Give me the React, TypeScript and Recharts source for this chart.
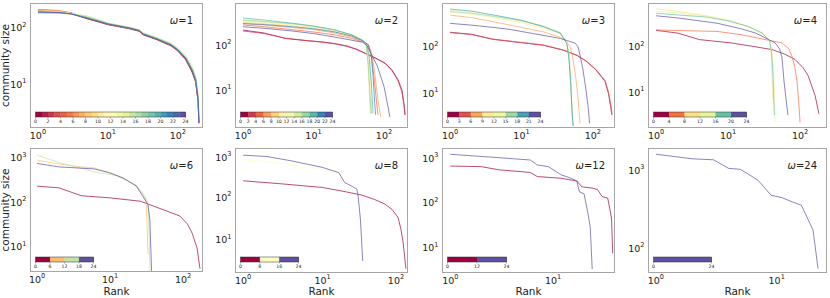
import { LineChart, Line, XAxis, YAxis } from "recharts";

type Pt = [number, number];

// matplotlib "Spectral" anchors
const SPECTRAL = ["#9e0142", "#d53e4f", "#f46d43", "#fdae61", "#fee08b", "#ffffbf", "#e6f598", "#abdda4", "#66c2a5", "#3288bd", "#5e4fa2"];

// omega = 1: every window shares the same ranks
const W1_RANKS = [1, 2, 3, 5, 8, 10, 20, 28, 32, 50, 80, 100, 130, 160, 180, 195, 200];
const W1_SIZES = [
  [210, 200, 185, 148, 125, 115, 98, 88, 76, 62, 48, 39, 27, 16, 11, 5, 2],
  [205, 198, 182, 146, 124, 114, 97, 87, 75, 62, 48, 39, 27, 17, 11, 5, 2],
  [215, 205, 186, 150, 127, 116, 99, 89, 77, 63, 49, 40, 28, 17, 11, 5, 2],
  [212, 202, 184, 152, 128, 117, 100, 90, 78, 64, 50, 41, 29, 18, 12, 5.5, 2.2],
  [208, 200, 183, 155, 130, 119, 101, 90, 79, 65, 51, 41, 29, 18, 12, 6, 2.3],
  [200, 195, 182, 160, 133, 120, 103, 92, 80, 66, 52, 42, 30, 19, 13, 6, 2.4],
  [195, 192, 180, 162, 135, 122, 104, 93, 81, 67, 53, 43, 31, 20, 13, 6.5, 2.6],
  [180, 182, 178, 165, 137, 123, 105, 94, 82, 68, 54, 44, 32, 21, 14, 7, 3],
  [185, 184, 178, 158, 132, 120, 102, 92, 80, 66, 52, 42, 30, 19, 13, 6, 2.5],
  [190, 187, 179, 155, 130, 119, 101, 91, 79, 65, 51, 41, 29, 18, 12, 5.5, 2.3],
  [195, 190, 178, 150, 128, 118, 100, 90, 78, 64, 50, 41, 29, 18, 12, 5.2, 2.1],
  [193, 188, 177, 148, 127, 117, 99, 89, 77, 63, 49, 40, 28, 17, 11, 5, 2],
];

const W2: Pt[][] = [
  [[1, 215], [2, 185], [4, 140], [8, 125], [13, 118], [20, 108], [30, 95], [40, 82], [54, 66], [75, 52], [103, 40], [130, 28], [158, 17], [180, 10], [192, 5], [198, 2.8]],
  [[1, 205], [2, 180], [4, 142], [8, 126], [13, 116], [20, 106], [30, 93], [40, 80], [54, 65], [75, 51], [103, 39], [130, 27], [158, 16], [180, 9], [192, 4.5], [200, 2.8]],
  [[1, 280], [2, 255], [5, 220], [10, 195], [20, 168], [35, 140], [50, 118], [60, 100], [66, 60], [72, 20], [78, 6], [82, 2.8]],
  [[1, 300], [2, 280], [5, 245], [10, 220], [20, 185], [35, 150], [50, 122], [60, 105], [68, 60], [75, 20], [82, 6], [90, 2.5]],
  [[1, 320], [2, 300], [5, 265], [10, 235], [20, 200], [35, 158], [50, 125], [58, 105], [62, 50], [65, 15], [67, 3]],
  [[1, 340], [2, 320], [5, 280], [10, 250], [20, 210], [35, 165], [50, 125], [57, 100], [60, 40], [62, 10], [64, 3]],
  [[1, 330], [2, 315], [5, 285], [10, 255], [20, 215], [35, 168], [50, 128], [57, 100], [60, 45], [63, 10], [65, 3]],
  [[1, 350], [2, 330], [5, 295], [10, 260], [20, 218], [35, 170], [50, 130], [56, 105], [59, 40], [62, 10], [64, 3]],
  [[1, 360], [2, 335], [5, 300], [10, 262], [20, 215], [35, 168], [50, 125], [56, 100], [60, 35], [63, 8], [66, 3]],
  [[1, 400], [2, 360], [5, 305], [10, 265], [20, 218], [35, 168], [50, 125], [57, 100], [62, 50], [66, 15], [70, 3]],
  [[1, 300], [2, 285], [5, 255], [10, 230], [20, 195], [35, 158], [50, 125], [60, 100], [66, 60], [70, 20], [74, 5], [76, 2.8]],
  [[1, 255], [2, 235], [5, 205], [10, 180], [20, 150], [35, 128], [50, 115], [58, 95], [65, 65], [80, 35], [100, 12], [115, 4], [121, 2.5]],
];

const W3: Pt[][] = [
  [[1, 204], [2, 185], [4, 144], [10, 122], [20, 108], [38, 85], [60, 65], [82, 48], [110, 32], [148, 18], [165, 10], [178, 5], [184, 3.5]],
  [[1, 200], [2, 182], [4, 146], [10, 124], [20, 110], [38, 86], [60, 66], [82, 49], [110, 33], [148, 19], [165, 11], [180, 5.5], [186, 3.5]],
  [[1, 476], [2, 420], [4, 344], [10, 260], [20, 210], [35, 160], [43, 128], [48, 100], [52, 60], [57, 25], [62, 8], [66, 2.3]],
  [[1, 560], [2, 500], [4, 420], [10, 330], [20, 250], [35, 190], [43, 130], [46, 80], [48, 30], [50, 8], [52, 2.3]],
  [[1, 600], [2, 540], [4, 450], [10, 350], [20, 270], [35, 200], [43, 125], [46, 70], [48, 25], [50, 6], [52, 2]],
  [[1, 570], [2, 520], [4, 450], [10, 360], [20, 280], [35, 200], [43, 120], [46, 70], [49, 20], [51, 5], [53, 2]],
  [[1, 640], [2, 580], [4, 480], [10, 370], [20, 270], [35, 195], [43, 118], [46, 60], [49, 15], [51, 4], [53, 2]],
  [[1, 317], [2, 290], [4, 260], [7, 234], [15, 190], [35, 151], [56, 120], [62, 100], [66, 66], [72, 35], [80, 12], [86, 5], [90, 2.3]],
];

const W4: Pt[][] = [
  [[1, 230], [2, 200], [4, 144], [11, 122], [20, 105], [41, 87], [60, 70], [85, 53], [110, 35], [130, 23], [162, 8.5], [183, 3.4]],
  [[1, 235], [2, 228], [7, 218], [15, 185], [26, 156], [40, 135], [56, 122], [70, 90], [77, 63], [85, 35], [91, 17], [96, 6], [100, 2.2]],
  [[1, 680], [2, 600], [5, 480], [10, 390], [19, 280], [30, 200], [38, 132], [40, 60], [41, 20], [42, 6.6]],
  [[1, 600], [2, 560], [5, 470], [10, 380], [19, 275], [30, 195], [38, 130], [41, 70], [43, 25], [44, 8], [45, 2.2]],
  [[1, 545], [2, 500], [5, 450], [10, 370], [19, 280], [30, 200], [38, 132], [40, 80], [42, 25], [43, 8], [44, 3.2]],
  [[1, 480], [2, 430], [7, 330], [15, 250], [24, 201], [35, 150], [45, 122], [52, 90], [56, 59], [60, 17], [64, 7], [68, 3.2]],
];

const W6: Pt[][] = [
  [[1, 229], [2, 210], [4, 140], [10, 125], [26, 105], [53, 68], [90, 49], [115, 32], [133, 20], [155, 9.4], [170, 3.2]],
  [[1, 880], [2, 720], [4, 620], [6, 590], [10, 450], [15, 350], [23, 235], [28, 150], [31, 110], [32, 40], [33, 6.8]],
  [[1, 1130], [2, 780], [3, 650], [7, 455], [12, 400], [20, 270], [28, 162], [33, 105], [34, 30], [35, 2.7]],
  [[1, 740], [2, 620], [6, 560], [10, 455], [15, 350], [23, 229], [28, 136], [33, 89], [35, 40], [37, 2.8]],
];

const W8: Pt[][] = [
  [[1, 247], [3, 210], [10, 172], [20, 135], [31, 114], [45, 90], [61, 70], [75, 52], [89, 34], [97, 18], [103, 9.1], [108, 4], [112, 2.1]],
  [[1, 770], [3, 640], [10, 465], [15, 390], [19, 330], [21, 300]],
  [[1, 990], [2, 920], [4, 730], [10, 510], [16, 385], [19, 225], [24, 180], [27, 157], [28, 110], [30, 30], [32, 3.2]],
];

const W12: Pt[][] = [
  [[1, 670], [2, 650], [3, 550], [5, 500], [6, 480], [7, 390], [12, 357], [17, 310], [19, 230], [24, 215], [27, 200], [30, 139], [34, 128], [37, 46], [38, 7.5]],
  [[1, 1230], [3, 1030], [6, 915], [7, 710], [9, 650], [12, 425], [15, 357], [17, 310], [18, 178], [20, 160], [22, 53], [23, 28], [24, 3.3]],
];

const W24: Pt[][] = [
  [[1, 1590], [2, 1390], [3, 1350], [4, 1050], [5, 1020], [6, 860], [7, 740], [9, 475], [11, 445], [13, 400], [16, 355], [20, 171], [22, 55]],
];

// colorbar tick labels
const CB1 = [0, 2, 4, 6, 8, 10, 12, 14, 16, 18, 20, 22, 24];
const CB2 = [0, 2, 4, 6, 8, 10, 12, 14, 16, 18, 20, 22, 24];
const CB3 = [0, 3, 6, 9, 12, 15, 18, 21, 24];
const CB4 = [0, 4, 8, 12, 16, 20, 24];
const CB6 = [0, 6, 12, 18, 24];
const CB8 = [0, 8, 16, 24];
const CB12 = [0, 12, 24];
const CB24 = [0, 24];

const W1: Pt[][] = W1_SIZES.map((row) => row.map((s, i) => [W1_RANKS[i], s] as Pt));

function hex2rgb(h: string) {
  return [1, 3, 5].map((i) => parseInt(h.slice(i, i + 2), 16));
}
function spectral(t: number) {
  const p = Math.max(0, Math.min(1, t)) * 10;
  const i = Math.min(9, Math.floor(p));
  const f = p - i;
  const a = hex2rgb(SPECTRAL[i]);
  const b = hex2rgb(SPECTRAL[i + 1]);
  const c = a.map((v, k) => Math.round(v + (b[k] - v) * f));
  return `rgb(${c[0]},${c[1]},${c[2]})`;
}

const PANELS = [
  { omega: 1, lines: W1, segs: 24, cb: CB1, left: 30, top: 3, w: 173, h: 125, xd: [0.77, 229], yd: [1.64, 279], xt: [1, 10, 100], yt: [10, 100], cbW: 150 },
  { omega: 2, lines: W2, segs: 12, cb: CB2, left: 235, top: 3, w: 173, h: 125, xd: [0.77, 219], yd: [1.43, 860], xt: [1, 10, 100], yt: [10, 100], cbW: 92 },
  { omega: 3, lines: W3, segs: 8, cb: CB3, left: 442, top: 3, w: 173, h: 125, xd: [0.77, 204], yd: [1.82, 865], xt: [1, 10, 100], yt: [10, 100], cbW: 93 },
  { omega: 4, lines: W4, segs: 6, cb: CB4, left: 648, top: 3, w: 179, h: 125, xd: [0.77, 237], yd: [1.66, 915], xt: [1, 10, 100], yt: [10, 100], cbW: 93 },
  { omega: 6, lines: W6, segs: 4, cb: CB6, left: 30, top: 148, w: 173, h: 124, xd: [0.8, 187], yd: [2.7, 1650], xt: [1, 10, 100], yt: [10, 100, 1000], cbW: 58 },
  { omega: 8, lines: W8, segs: 3, cb: CB8, left: 235, top: 148, w: 173, h: 125, xd: [0.79, 119], yd: [1.67, 1460], xt: [1, 10, 100], yt: [10, 100, 1000], cbW: 58 },
  { omega: 12, lines: W12, segs: 2, cb: CB12, left: 442, top: 148, w: 173, h: 125, xd: [0.83, 40], yd: [2.7, 1700], xt: [1, 10], yt: [10, 100, 1000], cbW: 59 },
  { omega: 24, lines: W24, segs: 1, cb: CB24, left: 648, top: 148, w: 179, h: 125, xd: [0.86, 26.1], yd: [48.4, 1910], xt: [1, 10], yt: [100, 1000], cbW: 58 },
];

const FONT = "DejaVu Sans, sans-serif";
const YW = 30;
const XH = 22;

function Pow10({ x, y, v, anchor }: { x: number; y: number; v: number; anchor: "middle" | "end" }) {
  return (
    <text x={x} y={y} textAnchor={anchor} fontSize={9.5} fill="#222" fontFamily={FONT}>
      10
      <tspan dy={-4.5} fontSize={6.6}>{Math.round(Math.log10(v))}</tspan>
    </text>
  );
}

function Panel({ p }: { p: (typeof PANELS)[number] }) {
  const n = p.lines.length;
  return (
    <div style={{ position: "absolute", left: p.left - YW, top: p.top }}>
      <LineChart width={p.w + YW} height={p.h + XH} margin={{ top: 0, right: 0, bottom: 0, left: 0 }}>
        <XAxis
          type="number"
          dataKey="r"
          scale="log"
          domain={p.xd}
          allowDataOverflow
          ticks={p.xt}
          height={XH}
          axisLine={false}
          tickLine={false}
          tick={(t: any) => <Pow10 x={t.x} y={p.h + 10.5} v={t.payload.value} anchor="middle" />}
        />
        <YAxis
          type="number"
          dataKey="s"
          scale="log"
          domain={p.yd}
          allowDataOverflow
          ticks={p.yt}
          width={YW}
          axisLine={false}
          tickLine={false}
          tick={(t: any) => <Pow10 x={YW - 3.5} y={t.y + 3.5} v={t.payload.value} anchor="end" />}
        />
        {p.lines.map((pts, k) => (
          <Line
            key={k}
            data={pts.map(([r, s]) => ({ r, s }))}
            dataKey="s"
            type="linear"
            dot={false}
            stroke={spectral(n === 1 ? 1 : k / (n - 1))}
            strokeOpacity={0.7}
            strokeWidth={1}
            isAnimationActive={false}
          />
        ))}
      </LineChart>
    </div>
  );
}

function Decor({ p }: { p: (typeof PANELS)[number] }) {
  const cx = p.left + 5.5;
  const cy = p.top + 109;
  const segW = p.cbW / p.segs;
  const maxT = p.cb[p.cb.length - 1];
  return (
    <g>
      <rect x={p.left + 0.5} y={p.top + 0.5} width={p.w - 1} height={p.h - 1} fill="none" stroke="#a6a6a6" strokeWidth={1} />
      <text x={p.left + p.w - 10} y={p.top + 21} textAnchor="end" fontSize={10} fontFamily={FONT} fill="#222">
        <tspan fontStyle="italic">ω</tspan>={p.omega}
      </text>
      {Array.from({ length: p.segs }, (_, j) => (
        <rect key={j} x={cx + j * segW} y={cy} width={segW + 0.3} height={5} fill={spectral(p.segs === 1 ? 1 : j / (p.segs - 1))} />
      ))}
      <rect x={cx} y={cy} width={p.cbW} height={5} fill="none" stroke="#333" strokeWidth={0.5} />
      {p.cb.map((v) => {
        const tx = cx + (v / maxT) * p.cbW;
        return (
          <g key={v}>
            <line x1={tx} x2={tx} y1={cy + 5} y2={cy + 6.5} stroke="#333" strokeWidth={0.4} />
            <text x={tx} y={cy + 11} textAnchor="middle" fontSize={4.6} fontFamily={FONT} fill="#222">
              {v}
            </text>
          </g>
        );
      })}
    </g>
  );
}

export default function App() {
  return (
    <div style={{ position: "absolute", left: 0, top: 0, width: 830, height: 298, background: "#fff", overflow: "hidden" }}>
      {PANELS.map((p) => (
        <Panel key={p.omega} p={p} />
      ))}
      <svg width={830} height={298} style={{ position: "absolute", left: 0, top: 0, pointerEvents: "none" }}>
        {PANELS.map((p) => (
          <Decor key={p.omega} p={p} />
        ))}
        <text transform="translate(8.5,65.5) rotate(-90)" textAnchor="middle" fontSize={10.5} fontFamily={FONT} fill="#222">
          community size
        </text>
        <text transform="translate(8.5,210) rotate(-90)" textAnchor="middle" fontSize={10.5} fontFamily={FONT} fill="#222">
          community size
        </text>
        {PANELS.slice(4).map((p) => (
          <text key={p.omega} x={p.left + p.w / 2} y={295} textAnchor="middle" fontSize={10.5} fontFamily={FONT} fill="#222">
            Rank
          </text>
        ))}
      </svg>
    </div>
  );
}
